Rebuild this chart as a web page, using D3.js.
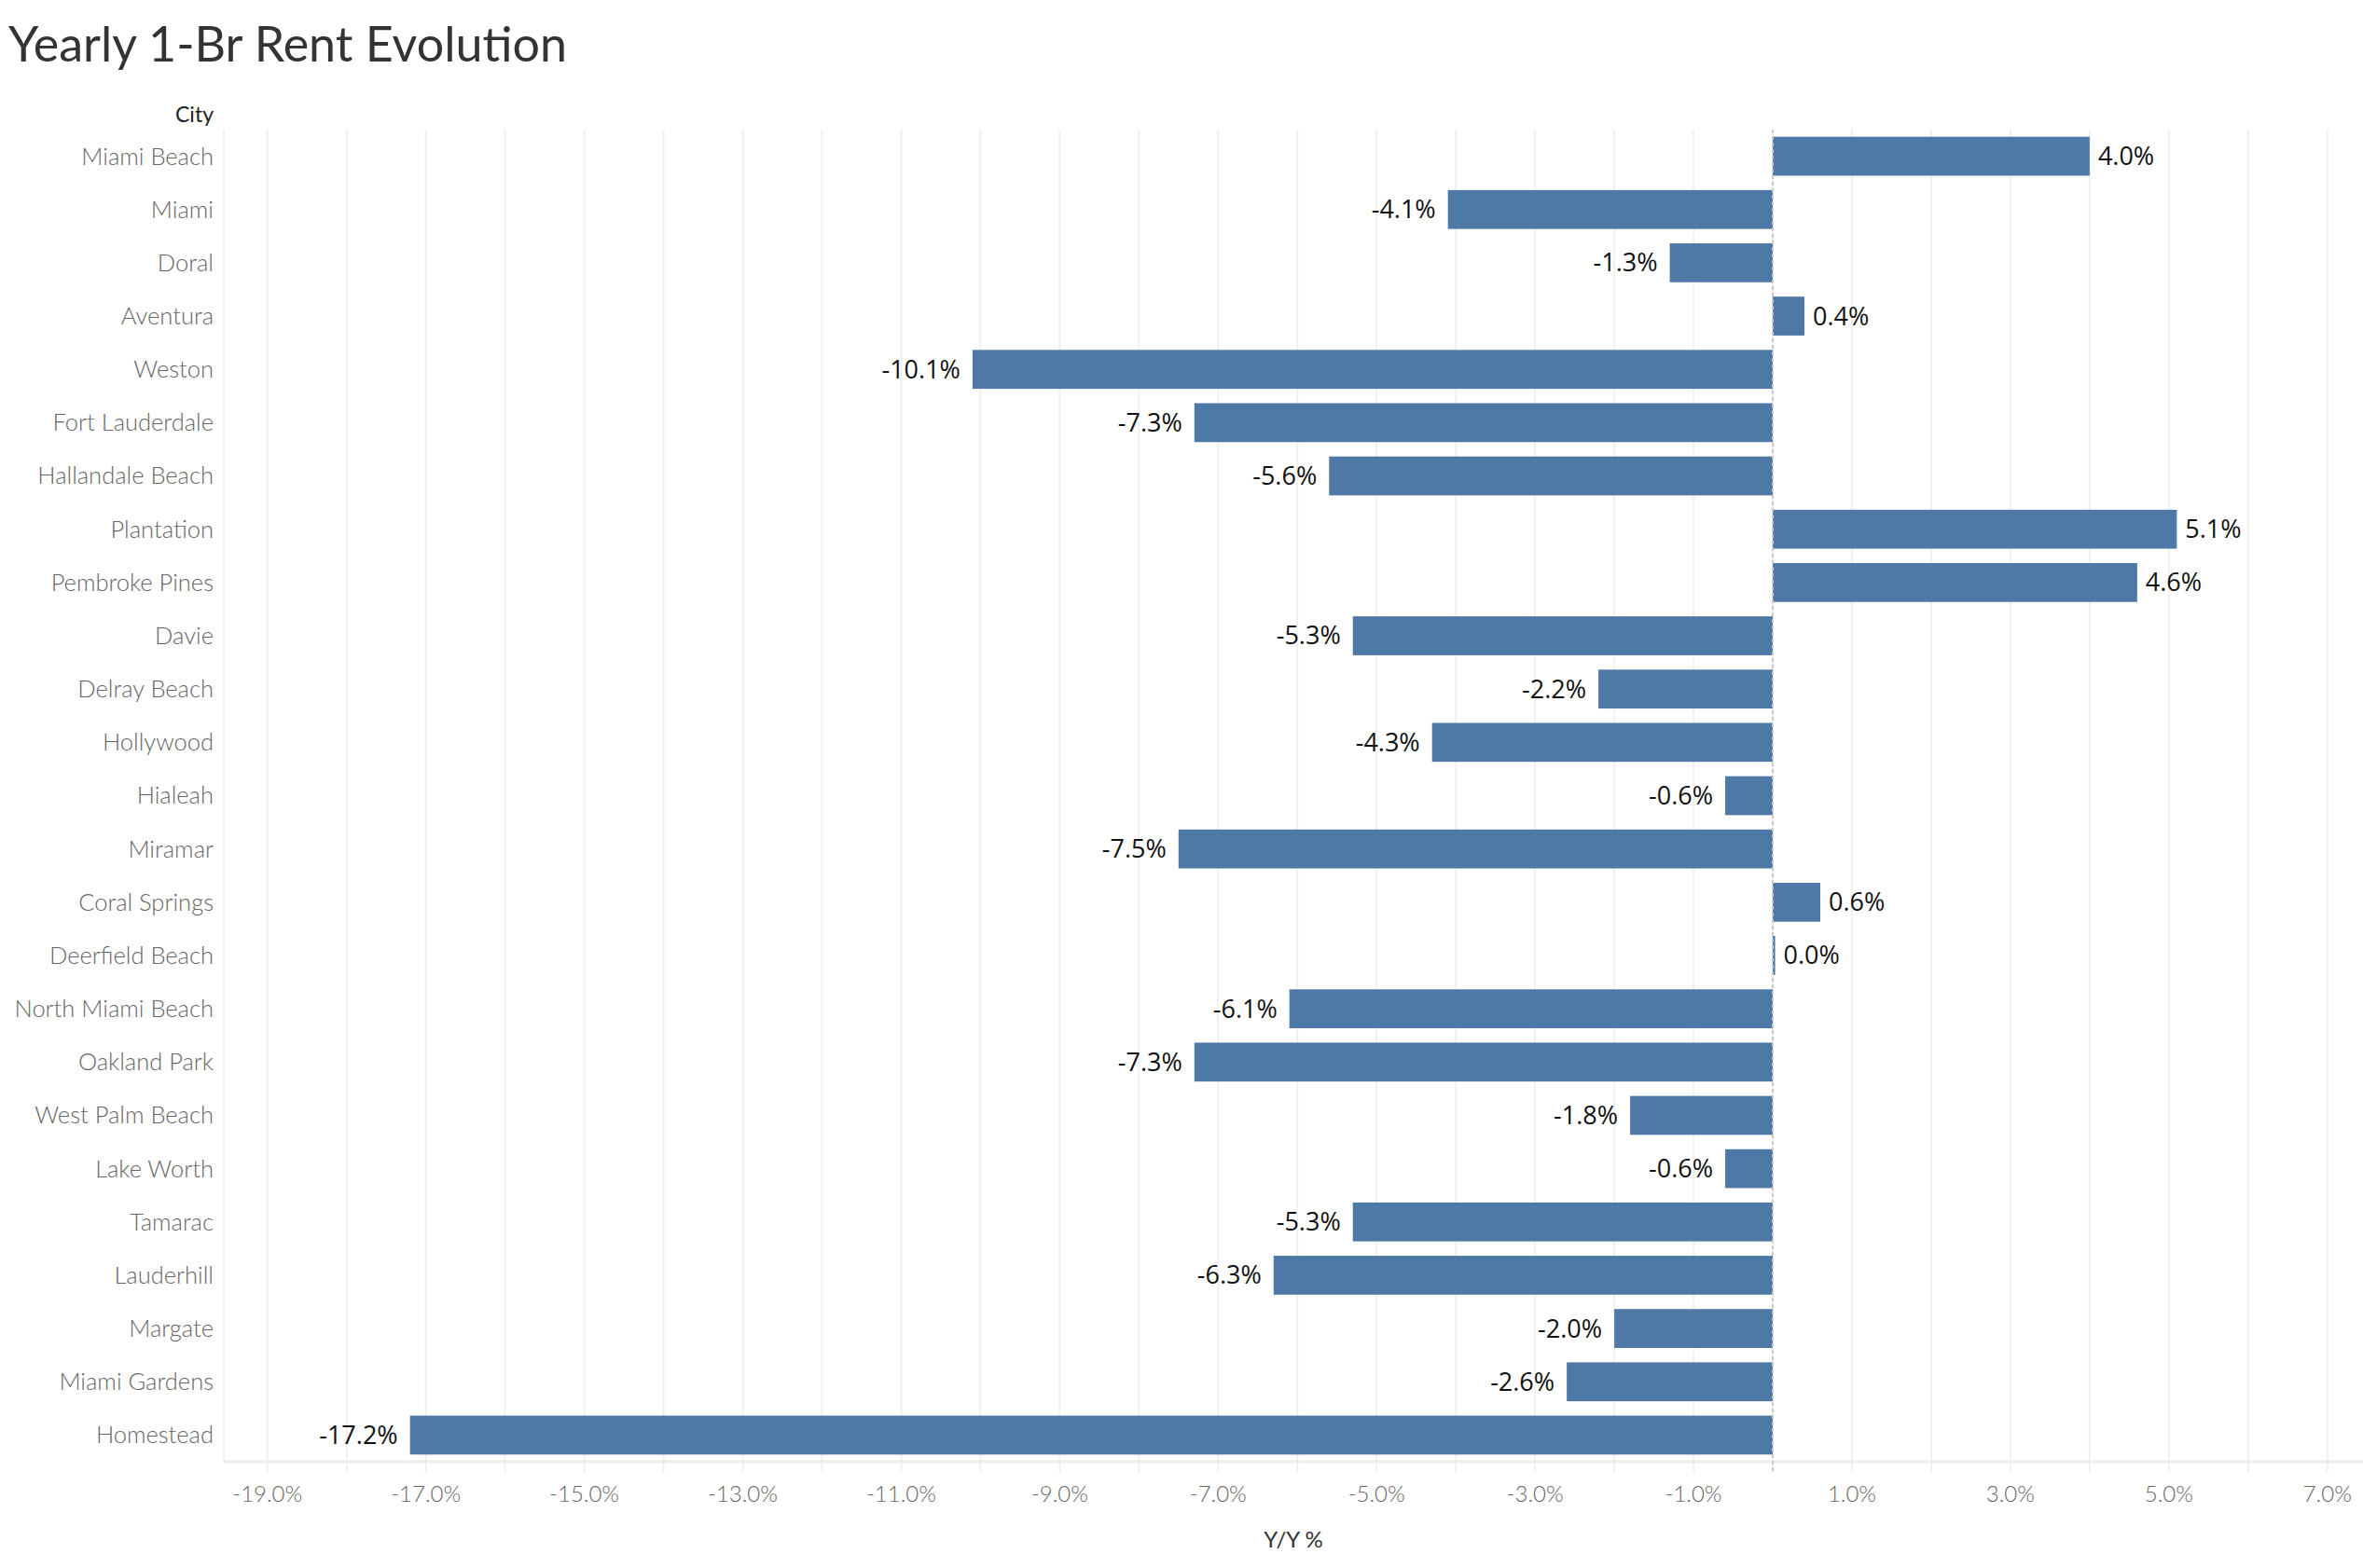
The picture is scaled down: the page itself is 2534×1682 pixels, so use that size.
<!DOCTYPE html>
<html>
<head>
<meta charset="utf-8" />
<title>Yearly 1-Br Rent Evolution</title>
<script src="https://d3js.org/d3.v7.min.js"></script>
<style>
  body { margin: 0; background: #fff; }
  svg { display: block; }
</style>
</head>
<body>
<div id="container"></div>
<script>
  // data
  var cities = ["Miami Beach", "Miami", "Doral", "Aventura", "Weston", "Fort Lauderdale",
    "Hallandale Beach", "Plantation", "Pembroke Pines", "Davie", "Delray Beach", "Hollywood",
    "Hialeah", "Miramar", "Coral Springs", "Deerfield Beach", "North Miami Beach", "Oakland Park",
    "West Palm Beach", "Lake Worth", "Tamarac", "Lauderhill", "Margate", "Miami Gardens", "Homestead"];
  var yoy = [4.0, -4.1, -1.3, 0.4, -10.1, -7.3, -5.6, 5.1, 4.6, -5.3, -2.2, -4.3,
    -0.6, -7.5, 0.6, 0.03, -6.1, -7.3, -1.8, -0.6, -5.3, -6.3, -2.0, -2.6, -17.2];
  var tickValues = [-19, -17, -15, -13, -11, -9, -7, -5, -3, -1, 1, 3, 5, 7];
  var gridValues = d3.range(-19, 8);

  var width = 2534, height = 1682;
  var margin = { top: 139, right: 0, bottom: 114, left: 240 };

  var data = cities.map(function (c, i) { return { city: c, value: yoy[i] }; });

  // tableau style percent, plain hyphen for the minus sign
  var pct = function (v) { return d3.format(".1f")(v).replace("\u2212", "-") + "%"; };

  var svg = d3.select("#container").append("svg")
    .attr("width", width)
    .attr("height", height);

  var x = d3.scaleLinear()
    .domain([-19.55, 7.45])
    .range([margin.left, width - margin.right]);

  var y = d3.scaleBand()
    .domain(cities)
    .range([margin.top, height - margin.bottom])
    .paddingInner(0.27)
    .paddingOuter(0.135);

  var fontLight = "Lato, 'Open Sans', sans-serif";

  // title
  svg.append("text")
    .attr("x", 9)
    .attr("y", 66)
    .style("font-family", fontLight)
    .style("font-size", "52px")
    .style("fill", "#333")
    .text("Yearly 1-Br Rent Evolution");

  // column header
  svg.append("text")
    .attr("x", 229)
    .attr("y", 123)
    .attr("dy", "0.35em")
    .attr("text-anchor", "end")
    .style("font-family", fontLight)
    .style("font-size", "23px")
    .style("fill", "#222")
    .text("City");

  var plotBottom = height - margin.bottom;

  // gridlines
  svg.append("g").selectAll("line")
    .data(gridValues)
    .enter().append("line")
    .attr("x1", d => x(d)).attr("x2", d => x(d))
    .attr("y1", margin.top).attr("y2", plotBottom + 11)
    .style("stroke", "#f0f0f0")
    .style("stroke-width", 2);

  // left edge and bottom axis line
  svg.append("line")
    .attr("x1", margin.left).attr("x2", margin.left)
    .attr("y1", margin.top).attr("y2", plotBottom)
    .style("stroke", "#f0f0f0").style("stroke-width", 2);
  svg.append("line")
    .attr("x1", margin.left).attr("x2", width)
    .attr("y1", plotBottom).attr("y2", plotBottom)
    .style("stroke", "#ececec").style("stroke-width", 3);

  // bars
  svg.append("g").selectAll("rect")
    .data(data)
    .enter().append("rect")
    .attr("x", d => x(Math.min(0, d.value)))
    .attr("width", d => Math.abs(x(d.value) - x(0)))
    .attr("y", d => y(d.city))
    .attr("height", y.bandwidth())
    .style("fill", "#4e79a7");

  // zero line (dashed)
  svg.append("line")
    .attr("x1", x(0)).attr("x2", x(0))
    .attr("y1", margin.top).attr("y2", plotBottom + 11)
    .style("stroke", "#c8c8c8")
    .style("stroke-width", 2)
    .style("stroke-dasharray", "4,3");

  // value labels
  svg.append("g").selectAll("text")
    .data(data)
    .enter().append("text")
    .attr("x", d => d.value >= 0 ? x(d.value) + 9 : x(d.value) - 13)
    .attr("y", d => y(d.city) + y.bandwidth() / 2)
    .attr("dy", "0.35em")
    .attr("text-anchor", d => d.value >= 0 ? "start" : "end")
    .style("font-family", "'Open Sans', sans-serif")
    .style("font-size", "27px")
    .style("fill", "#111")
    .text(d => pct(d.value));

  // city labels
  svg.append("g").selectAll("text")
    .data(data)
    .enter().append("text")
    .attr("x", 229)
    .attr("y", d => y(d.city) + y.bandwidth() / 2)
    .attr("dy", "0.35em")
    .attr("text-anchor", "end")
    .style("font-family", fontLight)
    .style("font-weight", 300)
    .style("font-size", "25.5px")
    .style("fill", "#666")
    .text(d => d.city);

  // x tick labels
  svg.append("g").selectAll("text")
    .data(tickValues)
    .enter().append("text")
    .attr("x", d => x(d))
    .attr("y", 1603)
    .attr("dy", "0.35em")
    .attr("text-anchor", "middle")
    .style("font-family", fontLight)
    .style("font-weight", 300)
    .style("font-size", "24px")
    .style("fill", "#666")
    .text(d => pct(d));

  // axis title
  svg.append("text")
    .attr("x", (margin.left + width) / 2)
    .attr("y", 1652)
    .attr("dy", "0.35em")
    .attr("text-anchor", "middle")
    .style("font-family", fontLight)
    .style("font-size", "24px")
    .style("fill", "#333")
    .text("Y/Y %");
</script>
</body>
</html>
